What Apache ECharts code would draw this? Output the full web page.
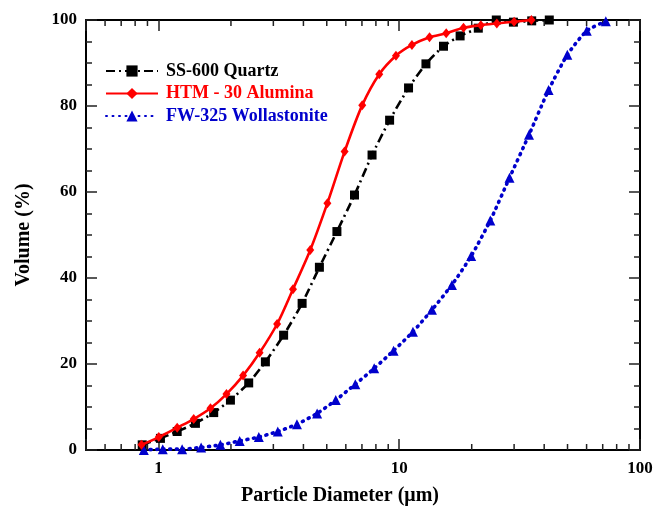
<!DOCTYPE html>
<html>
<head>
<meta charset="utf-8">
<script src="https://cdn.jsdelivr.net/npm/echarts@6/dist/echarts.min.js"></script>
<style>html,body{margin:0;padding:0;background:#fff}#c{width:661px;height:511px}</style>
</head>
<body>
<div id="c"></div>
<script>
// SS-600 Quartz
const quartzX = [0.856, 1.019, 1.196, 1.424, 1.696, 1.99, 2.37, 2.78, 3.31, 3.95, 4.66, 5.51, 6.52, 7.71, 9.12, 10.93, 12.91, 15.27, 17.9, 21.3, 25.3, 29.8, 35.5, 42.0];
const quartzY = [1.2, 2.7, 4.3, 6.2, 8.7, 11.6, 15.6, 20.5, 26.7, 34.1, 42.5, 50.8, 59.3, 68.6, 76.7, 84.2, 89.8, 93.9, 96.3, 98.1, 100, 99.5, 99.8, 100];
// HTM - 30 Alumina
const aluminaX = [0.850, 1.003, 1.196, 1.401, 1.644, 1.916, 2.246, 2.63, 3.11, 3.62, 4.27, 5.03, 5.93, 7.02, 8.26, 9.69, 11.29, 13.36, 15.67, 18.49, 21.83, 25.43, 30.0, 35.4];
const aluminaY = [1.2, 3.0, 5.2, 7.2, 9.7, 13.0, 17.3, 22.6, 29.3, 37.4, 46.5, 57.4, 69.4, 80.2, 87.4, 91.7, 94.2, 96.0, 96.9, 98.2, 98.8, 99.2, 99.6, 100];
// FW-325 Wollastonite
const wollX = [0.869, 1.042, 1.254, 1.504, 1.808, 2.174, 2.61, 3.13, 3.76, 4.56, 5.45, 6.57, 7.87, 9.47, 11.40, 13.67, 16.55, 19.9, 23.9, 28.7, 34.6, 41.7, 49.9, 60.1, 72.1];
const wollY = [0, 0.2, 0.2, 0.6, 1.2, 2.1, 3.0, 4.3, 6.0, 8.5, 11.6, 15.3, 19.0, 23.1, 27.5, 32.6, 38.4, 45.1, 53.4, 63.3, 73.3, 83.7, 91.9, 97.5, 99.7];
// minor tick positions of the log axis
const minorX = [0.6, 0.7, 0.8, 0.9, 2, 3, 4, 5, 6, 7, 8, 9, 20, 30, 40, 50, 60, 70, 80, 90];
const majorXLabels = [1, 10, 100];

const zip = (xs, ys) => xs.map((x, i) => [x, ys[i]]);
const FONT = '"Liberation Serif", "Times New Roman", serif';
const BLUE = '#0000cc';

const chart = echarts.init(document.getElementById('c'), null, {renderer: 'canvas'});
const isMajor = v => majorXLabels.some(m => Math.abs(v - m) / m < 1e-6);

const xCommon = {
  type: 'log', logBase: 10, min: 0.5, max: 100,
  axisLine: {show: true, onZero: false, lineStyle: {color: '#000', width: 2}},
  axisTick: {show: true, inside: true, length: 11, lineStyle: {color: '#222', width: 1.5}},
  splitLine: {show: false}, minorTick: {show: false}, minorSplitLine: {show: false}
};
const yCommon = {
  type: 'value', min: 0, max: 100, interval: 20,
  axisLine: {show: true, onZero: false, lineStyle: {color: '#000', width: 2}},
  axisTick: {show: true, inside: true, length: 11, lineStyle: {color: '#222', width: 1.5}},
  minorTick: {show: true, splitNumber: 4, length: 6, lineStyle: {color: '#222', width: 1.5}},
  splitLine: {show: false}
};

chart.setOption({
  animation: false,
  backgroundColor: '#fff',
  grid: {left: 86, right: 21, top: 20, bottom: 61, containLabel: false},
  legend: {
    orient: 'vertical', left: 100, top: 57,
    itemWidth: 52, itemHeight: 14, itemGap: 4.5,
    textStyle: {fontFamily: FONT, fontWeight: 'bold', fontSize: 18, padding: [0, 0, 0, 3]},
    data: [
      {name: 'SS-600 Quartz', textStyle: {color: '#000'}},
      {name: 'HTM - 30 Alumina', textStyle: {color: '#ff0000'}},
      {name: 'FW-325 Wollastonite', textStyle: {color: BLUE}}
    ]
  },
  xAxis: [
    Object.assign({}, xCommon, {
      position: 'bottom',
      name: 'Particle Diameter (\u03bcm)', nameLocation: 'middle', nameGap: 36,
      nameTextStyle: {fontFamily: FONT, fontWeight: 'bold', fontSize: 20, color: '#000', padding: [0, 46, 0, 0]},
      axisLabel: {show: true, margin: 10, fontFamily: FONT, fontWeight: 'bold', fontSize: 17, color: '#000',
        formatter: v => isMajor(v) ? String(Math.round(v)) : ''}
    }),
    Object.assign({}, xCommon, {position: 'top', axisLabel: {show: false}})
  ],
  yAxis: [
    Object.assign({}, yCommon, {
      position: 'left',
      name: 'Volume (%)', nameLocation: 'middle', nameGap: 52,
      nameTextStyle: {fontFamily: FONT, fontWeight: 'bold', fontSize: 20, color: '#000'},
      axisLabel: {show: true, margin: 9, fontFamily: FONT, fontWeight: 'bold', fontSize: 17, color: '#000'}
    }),
    Object.assign({}, yCommon, {position: 'right', axisLabel: {show: false}})
  ],
  series: [
    {
      name: 'SS-600 Quartz', type: 'line', data: zip(quartzX, quartzY),
      smooth: 0.2, symbol: 'rect', symbolSize: 9, z: 3,
      lineStyle: {color: '#000', width: 2.6, type: [9, 4, 2, 4]},
      itemStyle: {color: '#000'}
    },
    {
      name: 'HTM - 30 Alumina', type: 'line', data: zip(aluminaX, aluminaY),
      smooth: 0.3, symbol: 'diamond', symbolSize: [8, 10], z: 4,
      lineStyle: {color: '#ff0000', width: 2.6, type: 'solid'},
      itemStyle: {color: '#ff0000'}
    },
    {
      name: 'FW-325 Wollastonite', type: 'line', data: zip(wollX, wollY),
      smooth: 0.2, symbol: 'triangle', symbolSize: 10, z: 3,
      lineStyle: {color: BLUE, width: 3.6, type: [1, 5.5], cap: 'round'},
      itemStyle: {color: BLUE}
    },
    {
      name: 'minorTicks', type: 'custom', silent: true, z: 1, clip: false,
      xAxisIndex: 0, yAxisIndex: 0,
      data: minorX.map(v => [v, 0]),
      renderItem: (params, api) => {
        const v = api.value(0);
        const pb = api.coord([v, 0]);
        const pt = api.coord([v, 100]);
        const st = {stroke: '#222', lineWidth: 1.5};
        return {type: 'group', children: [
          {type: 'line', shape: {x1: pb[0], y1: pb[1], x2: pb[0], y2: pb[1] - 6}, style: st},
          {type: 'line', shape: {x1: pt[0], y1: pt[1], x2: pt[0], y2: pt[1] + 6}, style: st}
        ]};
      }
    }
  ]
});
</script>
</body>
</html>
